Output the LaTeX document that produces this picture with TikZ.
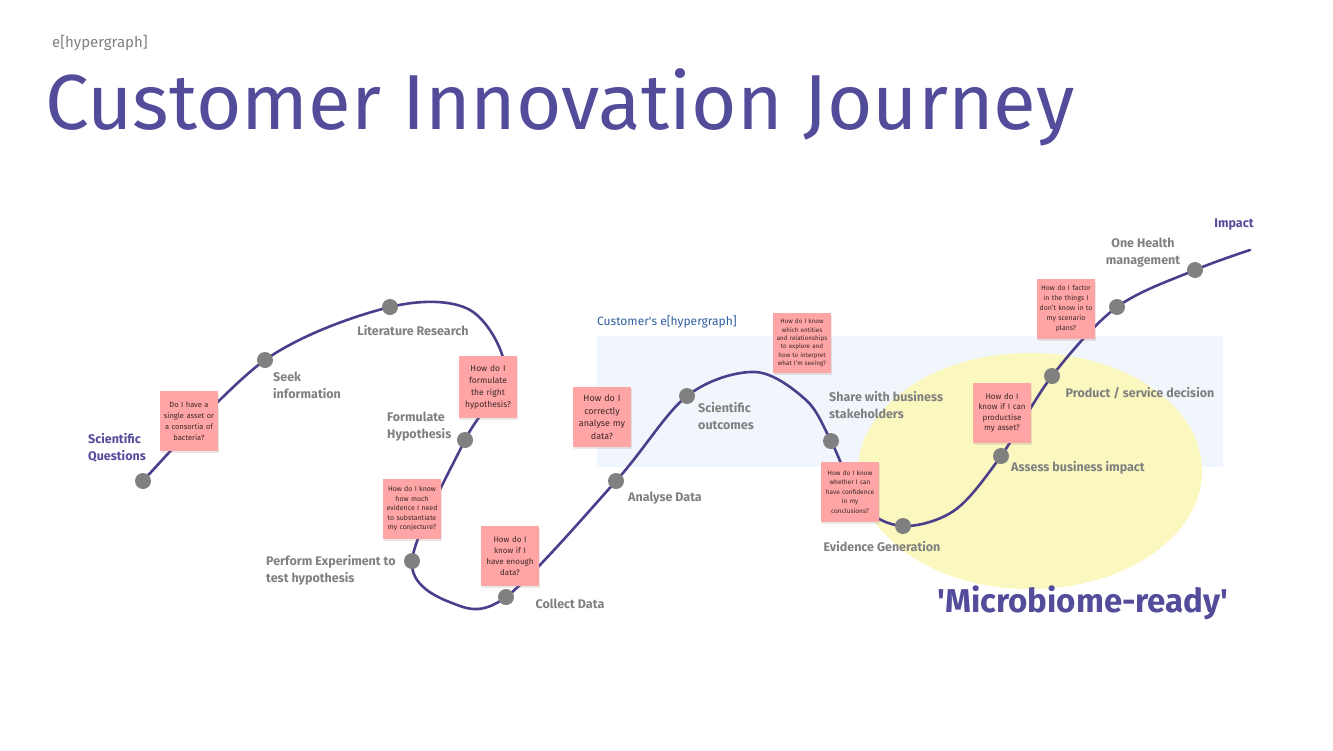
\documentclass[tikz,border=0pt]{standalone}
\usepackage{fontspec}
\setmainfont{Fira Sans}
\usepackage{tikz}
\usetikzlibrary{positioning, shapes.geometric, shadows}
\definecolor{journeypurple}{RGB}{75,63,140}
\definecolor{titlepurple}{RGB}{83,76,155}
\definecolor{dotgrey}{RGB}{128,128,128}
\definecolor{labelgrey}{RGB}{128,128,128}
\definecolor{stickypink}{RGB}{255,165,165}
\definecolor{stickytext}{RGB}{60,40,40}
\definecolor{bandblue}{RGB}{241,246,252}
\definecolor{readyyellow}{RGB}{250,248,190}
\definecolor{linkblue}{RGB}{47,94,158}

\begin{document}
\begin{tikzpicture}[x=1pt, y=-1pt,
  dot/.style={circle, fill=dotgrey, minimum size=16pt, inner sep=0pt},
  sticky/.style={rectangle, fill=stickypink, minimum width=58pt, minimum height=60pt,
                 text width=54pt, align=center, inner sep=2pt, text=stickytext,
                 drop shadow={opacity=0.18, shadow xshift=1pt, shadow yshift=-1.5pt}},
  stage/.style={font=\bfseries\fontsize{12.5}{17}\selectfont, text=labelgrey, inner sep=0pt, align=left},
  journey/.style={draw=journeypurple, line width=2.6pt, line cap=round}
]
\useasboundingbox (0,0) rectangle (1333,750);

% backdrop
\fill[bandblue] (597,336) rectangle (1223,467);
\fill[readyyellow] (1030,471) ellipse [x radius=172, y radius=118];

% headings
\node[anchor=west, inner sep=0pt, text=labelgrey, font=\fontsize{15}{18}\selectfont] (brand) at (52,43) {e[hypergraph]};
\node[anchor=west, inner sep=0pt, text=titlepurple, font=\fontsize{78}{88}\selectfont] (title) at (45,107) {Customer Innovation Journey};
\node[anchor=west, inner sep=0pt, text=linkblue, font=\fontsize{12}{14}\selectfont] (band) at (597,322) {Customer\textquotesingle s e[hypergraph]};
\node[inner sep=0pt, text=titlepurple, font=\bfseries\fontsize{33}{38}\selectfont] (ready) at (1083,603) {\textquotesingle Microbiome-ready\textquotesingle};

% points along the journey
\coordinate (q)       at (143,481);
\coordinate (seek)    at (265,360);
\coordinate (lit)     at (390,307);
\coordinate (c1)      at (470,310);
\coordinate (c2)      at (505,372);
\coordinate (form)    at (465,440);
\coordinate (exp)     at (412,561);
\coordinate (c3)      at (452,603);
\coordinate (collect) at (506,597);
\coordinate (analyse) at (616,481);
\coordinate (sci)     at (687,396);
\coordinate (c4)      at (755,372);
\coordinate (c5)      at (806,400);
\coordinate (share)   at (831,441);
\coordinate (c6)      at (862,505);
\coordinate (evid)    at (903,526);
\coordinate (c7)      at (955,510);
\coordinate (assess)  at (1001,456);
\coordinate (prod)    at (1052,376);
\coordinate (health)  at (1117,307);
\coordinate (manage)  at (1195,270);
\coordinate (impact)  at (1250,250);

\draw[journey] plot[smooth, tension=0.55] coordinates {(q) (seek) (lit) (c1) (c2) (form) (exp) (c3) (collect) (analyse) (sci) (c4) (c5) (share) (c6) (evid) (c7) (assess) (prod) (health) (manage) (impact)};

% questions
\node[sticky, font=\fontsize{7.5}{11}\selectfont] (s1) at (189,421) {Do I have a\\single asset or\\a consortia of\\bacteria?};
\node[sticky, minimum height=62pt, font=\fontsize{8.5}{12}\selectfont] (s2) at (488,387) {How do I\\formulate\\the right\\hypothesis?};
\node[sticky, font=\fontsize{7}{9.5}\selectfont] (s3) at (412,509) {How do I know\\how much\\evidence I need\\to substantiate\\my conjecture?};
\node[sticky, font=\fontsize{8}{11}\selectfont] (s4) at (510,556) {How do I\\know if I\\have enough\\data?};
\node[sticky, font=\fontsize{9}{12.5}\selectfont] (s5) at (602,417) {How do I\\correctly\\analyse my\\data?};
\node[sticky, font=\fontsize{6.3}{8.4}\selectfont] (s6) at (802,343) {How do I know\\which entities\\and relationships\\to explore and\\how to interpret\\what I'm seeing?};
\node[sticky, font=\fontsize{6.5}{9.5}\selectfont] (s7) at (850,492) {How do I know\\whether I can\\have confidence\\in my\\conclusions?};
\node[sticky, font=\fontsize{8}{10.5}\selectfont] (s8) at (1002,413) {How do I\\know if I can\\productise\\my asset?};
\node[sticky, font=\fontsize{7}{10}\selectfont] (s9) at (1066,309) {How do I factor\\in the things I\\don't know in to\\my scenario\\plans?};

% stages
\foreach \p in {q, seek, lit, form, exp, collect, analyse, sci, share, evid, assess, prod, health, manage}
  \node[dot] (\p dot) at (\p) {};

\node[stage, text=titlepurple, anchor=west] (lq) at (88,448) {Scientific\\Questions};
\node[stage, anchor=west] (lseek) at (273,385) {Seek\\information};
\node[stage] (llit) at (413,331) {Literature Research};
\node[stage, anchor=west] (lform) at (387,427) {Formulate\\Hypothesis};
\node[stage, anchor=west] (lexp) at (266,570) {Perform Experiment to\\test hypothesis};
\node[stage] (lcollect) at (570,604) {Collect Data};
\node[stage] (lanalyse) at (665,498) {Analyse Data};
\node[stage, anchor=west] (lsci) at (698,416) {Scientific\\outcomes};
\node[stage, anchor=west] (lshare) at (829,405) {Share with business\\stakeholders};
\node[stage] (levid) at (882,547) {Evidence Generation};
\node[stage] (lassess) at (1078,468) {Assess business impact};
\node[stage] (lprod) at (1140,393) {Product / service decision};
\node[stage, align=center] (lhealth) at (1143,253) {One Health\\management};
\node[stage, text=titlepurple] (limpact) at (1234,225) {Impact};
\end{tikzpicture}
\end{document}
